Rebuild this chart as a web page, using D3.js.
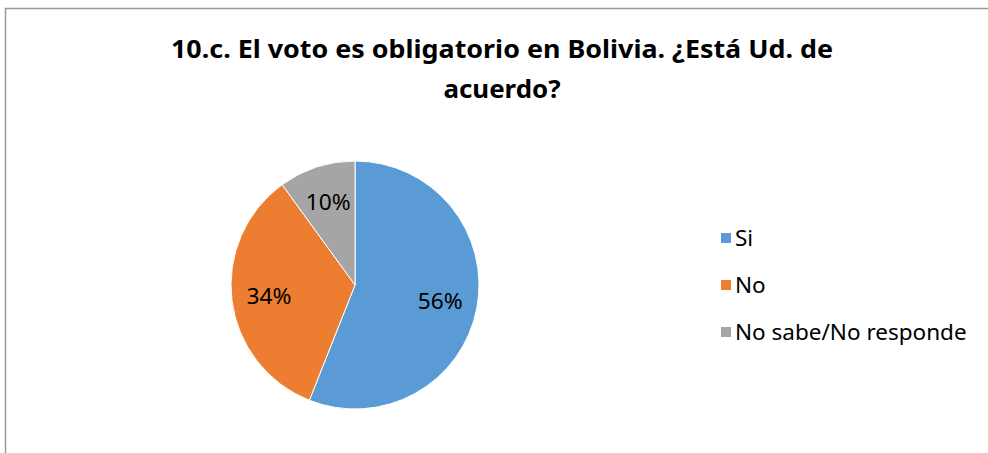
<!DOCTYPE html>
<html>
<head>
<meta charset="utf-8">
<script src="https://cdn.jsdelivr.net/npm/d3@7"></script>
<style>
  body { margin: 0; background: #fff; }
  svg { display: block; font-family: "Noto Sans", "Open Sans", sans-serif; }
</style>
</head>
<body>
<div class="chartHolder"></div>
<script>
let categories = ["Si", "No", "No sabe/No responde"],
  shares = [56, 34, 10],
  colors = ["#5b9bd5", "#ed7d31", "#a5a5a5"],
  titleLines = ["10.c. El voto es obligatorio en Bolivia. ¿Está Ud. de", "acuerdo?"];

let w = 988,
  h = 453,
  cx = 355,
  cy = 285,
  radius = 124,
  legendX = 721,
  legendY = 238,
  legendStep = 47;

let svg = d3.select(".chartHolder")
  .append("svg")
  .attr("width", w)
  .attr("height", h);

// chart area frame (runs off the right and bottom of the shot)
svg.append("rect")
  .attr("x", 5.5)
  .attr("y", 8.5)
  .attr("width", 1000)
  .attr("height", 500)
  .attr("fill", "#fff")
  .attr("stroke", "#9a9a9a")
  .attr("stroke-width", 1.5);

// title, squeezed to the width of the original Calibri text
let titleLengths = [662, 117];
svg.selectAll(".title")
  .data(titleLines)
  .enter()
  .append("text")
  .attr("class", "title")
  .attr("x", 502)
  .attr("y", (d, i) => 58 + i * 39.5)
  .attr("text-anchor", "middle")
  .attr("font-size", 25)
  .attr("font-weight", "bold")
  .attr("fill", "#000")
  .attr("textLength", (d, i) => titleLengths[i])
  .attr("lengthAdjust", "spacingAndGlyphs")
  .text(d => d);

let pie = d3.pie().sort(null).value(d => d);
let arcs = pie(shares);

let arc = d3.arc().innerRadius(0).outerRadius(radius);
let labelArc = d3.arc().innerRadius(radius * 0.7).outerRadius(radius * 0.7);

let g = svg.append("g")
  .attr("transform", "translate(" + cx + "," + cy + ")");

g.selectAll("path")
  .data(arcs)
  .enter()
  .append("path")
  .attr("d", arc)
  .attr("fill", (d, i) => colors[i])
  .attr("stroke", "#fff")
  .attr("stroke-width", 1);

g.selectAll(".label")
  .data(arcs)
  .enter()
  .append("text")
  .attr("class", "label")
  .attr("transform", d => "translate(" + labelArc.centroid(d) + ")")
  .attr("text-anchor", "middle")
  .attr("dy", "0.36em")
  .attr("font-size", 22)
  .attr("fill", "#000")
  .attr("textLength", 45)
  .attr("lengthAdjust", "spacingAndGlyphs")
  .text(d => d.data + "%");

let legend = svg.selectAll(".legend")
  .data(categories)
  .enter()
  .append("g")
  .attr("class", "legend")
  .attr("transform", (d, i) => "translate(" + legendX + "," + (legendY + i * legendStep) + ")");

legend.append("rect")
  .attr("x", 0)
  .attr("y", -5)
  .attr("width", 10)
  .attr("height", 10)
  .attr("fill", (d, i) => colors[i]);

legend.append("text")
  .attr("x", 14)
  .attr("dy", "0.36em")
  .attr("font-size", 22.5)
  .attr("fill", "#000")
  .text(d => d);
</script>
</body>
</html>
